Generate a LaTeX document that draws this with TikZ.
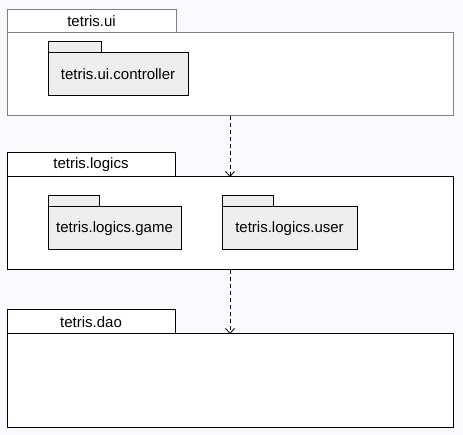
\documentclass[tikz,border=0pt]{standalone}
\usepackage{fontspec}
\setmainfont{Liberation Sans}
\usetikzlibrary{arrows.meta}
\definecolor{bg}{HTML}{F9FAFE}
\definecolor{pkgfill}{HTML}{EEEEEE}
\definecolor{uigray}{HTML}{7F7F7F}
\begin{document}
\begin{tikzpicture}[x=1pt,y=-1pt,
  box/.style={draw, line width=1pt, anchor=north west, inner sep=0pt, outer sep=0pt, fill=white, font=\fontsize{15}{17}\selectfont},
  inner/.style={box, fill=pkgfill},
  dep/.style={line width=1pt, dash pattern=on 4pt off 3pt, -{Straight Barb[length=5pt,width=9pt,line width=0.8pt]}}]
\fill[bg] (0,0) rectangle (463,435);
\useasboundingbox (0,0) rectangle (463,435);
% tetris.ui
\node[box, draw=uigray, minimum width=446pt, minimum height=83.5pt] (uibody) at (7,32.5) {};
\node[box, draw=uigray, minimum width=169pt, minimum height=22.5pt] (uitab) at (7,10) {tetris.ui};
\node[inner, minimum width=53pt, minimum height=11pt] (ctrltab) at (48,42) {};
\node[inner, minimum width=140pt, minimum height=43pt] (ctrl) at (48,53) {tetris.ui.controller};
% tetris.logics
\node[box, minimum width=446pt, minimum height=93pt] (logbody) at (7,177) {};
\node[box, minimum width=168pt, minimum height=24pt] (logtab) at (7,153) {tetris.logics};
\node[inner, minimum width=51pt, minimum height=11pt] (gametab) at (48,196) {};
\node[inner, minimum width=133pt, minimum height=43pt] (game) at (48,207) {tetris.logics.game};
\node[inner, minimum width=51pt, minimum height=11pt] (usertab) at (222,196) {};
\node[inner, minimum width=135pt, minimum height=43pt] (user) at (222,207) {tetris.logics.user};
% tetris.dao
\node[box, minimum width=446pt, minimum height=93pt] (daobody) at (7,334) {};
\node[box, minimum width=168pt, minimum height=24pt] (daotab) at (7,310) {tetris.dao};
% dependencies
\draw[dep] (uibody.south) -- (logbody.north);
\draw[dep] (logbody.south) -- (daobody.north);
\end{tikzpicture}
\end{document}
